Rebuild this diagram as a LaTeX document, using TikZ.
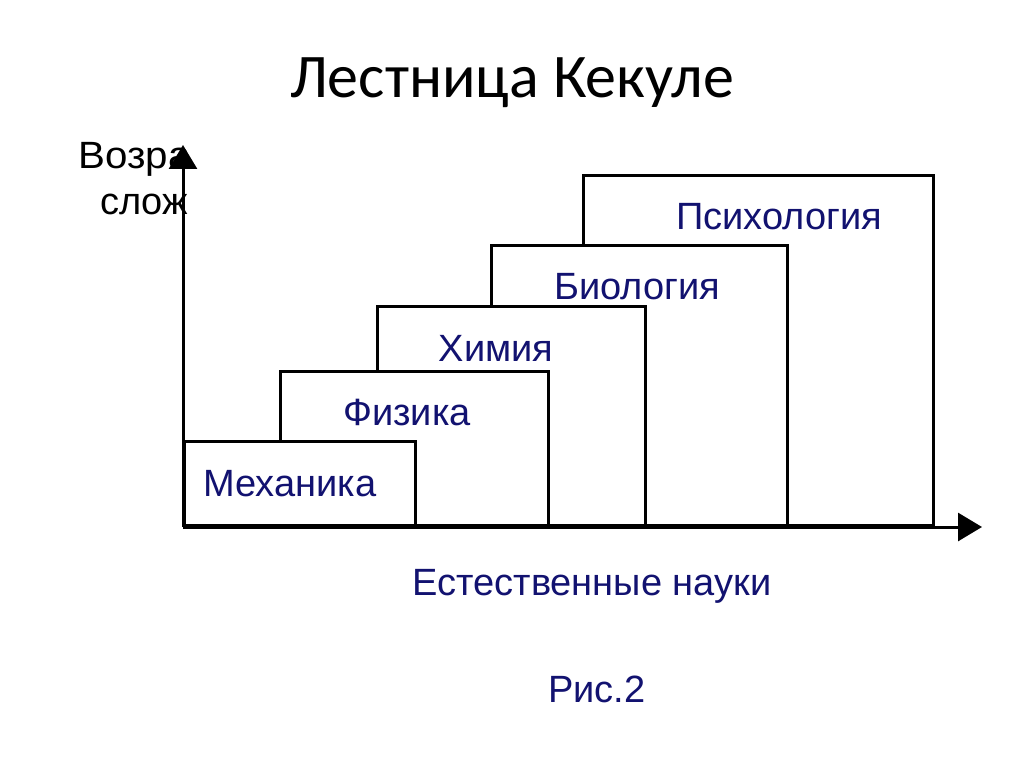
\documentclass[tikz,border=0pt]{standalone}
\usepackage{fontspec}
\setmainfont{Liberation Sans}
\newfontfamily\titlefont{Carlito}
\usepackage{tikz}
\usetikzlibrary{arrows.meta}
\definecolor{sciblue}{RGB}{18,18,112}

\tikzset{
  stepbox/.style={draw, fill=white, line width=3pt, anchor=south west, inner sep=0pt},
  science/.style={text=sciblue, font=\fontsize{38}{42}\selectfont},
  axislbl/.style={font=\fontsize{38}{42}\selectfont, anchor=east, inner sep=0pt},
  axisline/.style={line width=3pt, -{Triangle[length=24pt,width=28pt]}}
}

\begin{document}
\begin{tikzpicture}[x=1pt,y=-1pt]
            \useasboundingbox (0,0) rectangle (1024,767);
            \node[font=\titlefont\fontsize{62}{70}\selectfont] (title) at (512,83) {Лестница Кекуле};
            % axis labels, cut by the axis
            \node[axislbl, xscale=1.06] (age) at (191,159) {Возра};
            \node[axislbl] (compl) at (188,204) {слож};
            % the steps, back to front
            \node[stepbox, minimum width=350pt, minimum height=350pt] (psy) at (582,527) {};
            \node[stepbox, minimum width=296pt, minimum height=280pt] (bio) at (490,527) {};
            \node[stepbox, minimum width=268pt, minimum height=219pt] (chem) at (376,527) {};
            \node[stepbox, minimum width=268pt, minimum height=154pt] (phys) at (279,527) {};
            \node[stepbox, minimum width=231pt, minimum height=84pt] (mech) at (183,527) {};
            \node[science] (psyl) at (779,217) {Психология};
            \node[science] (biol) at (637,287) {Биология};
            \node[science] (cheml) at (496,348) {Химия};
            \node[science] (physl) at (407,413) {Физика};
            \node[science] (mechl) at (290,484) {Механика};
            % axes
            \coordinate (o) at (183,527);
            \coordinate (ytop) at (183,145);
            \coordinate (xend) at (982,527);
            \draw[axisline] (o) -- (ytop);
            \draw[axisline] (o) -- (xend);
            \node[science] (nat) at (592,586) {Естественные науки};
            \node[science] (fig) at (597,689) {Рис.2};
        \end{tikzpicture}
\end{document}
